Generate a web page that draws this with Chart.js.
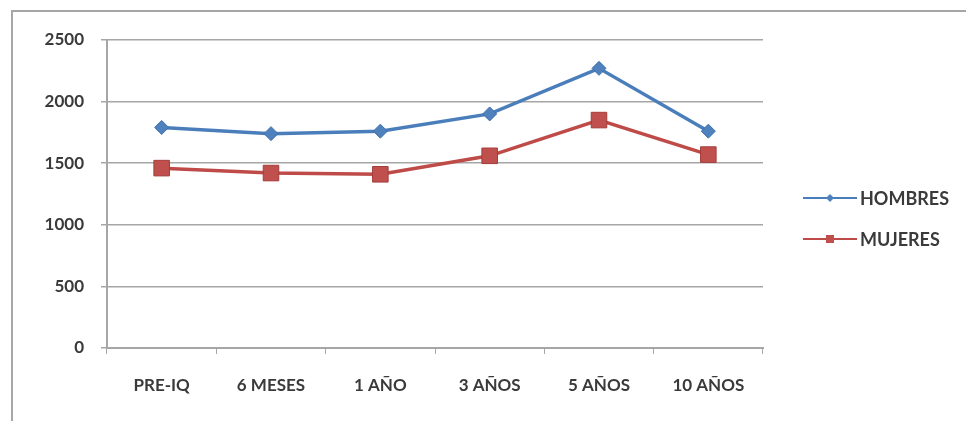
<!DOCTYPE html>
<html>
<head>
<meta charset="utf-8">
<script src="https://cdn.jsdelivr.net/npm/chart.js@4"></script>
<style>
  html, body { margin: 0; padding: 0; background: #fff; overflow: hidden; }
  #wrap { position: relative; width: 966px; height: 421px; }
  #frame { position: absolute; left: 11px; top: 10px; width: 1000px; height: 500px; border: 2px solid #a6a6a6; box-sizing: border-box; }
  canvas { position: absolute; left: 0; top: 0; }
</style>
</head>
<body>
<div id="wrap">
  <div id="frame"></div>
  <canvas id="chart" width="966" height="421"></canvas>
</div>
<script>
const categories = ['PRE-IQ', '6 MESES', '1 AÑO', '3 AÑOS', '5 AÑOS', '10 AÑOS'];
const hombres = [1790, 1740, 1760, 1900, 2270, 1760];
const mujeres = [1460, 1420, 1410, 1560, 1850, 1570];
const yTicks = [0, 500, 1000, 1500, 2000, 2500];

const blue = '#4a7ebb';
const red = '#be4b48';
const textColor = '#3a3a3a';
const labelFont = { family: 'Lato', size: 17, weight: 'bold' };

// legend drawn to the right, line with marker through it, like Excel
const sideLegend = {
  id: 'sideLegend',
  afterDraw(chart) {
    const ctx = chart.ctx;
    const rows = [198, 239];
    chart.data.datasets.forEach((ds, i) => {
      const y = rows[i];
      ctx.save();
      ctx.strokeStyle = ds.borderColor;
      ctx.lineWidth = 2;
      ctx.beginPath();
      ctx.moveTo(803, y);
      ctx.lineTo(857, y);
      ctx.stroke();
      ctx.fillStyle = ds.pointBackgroundColor;
      ctx.beginPath();
      if (ds.pointStyle === 'rectRot') {
        ctx.moveTo(830, y - 4);
        ctx.lineTo(834, y);
        ctx.lineTo(830, y + 4);
        ctx.lineTo(826, y);
      } else {
        ctx.rect(826, y - 4, 8, 8);
      }
      ctx.closePath();
      ctx.fill();
      ctx.fillStyle = textColor;
      ctx.font = 'bold 18px Lato';
      ctx.textBaseline = 'middle';
      ctx.textAlign = 'left';
      ctx.fillText(ds.label, 860, y + 1);
      ctx.restore();
    });
  }
};

new Chart(document.getElementById('chart'), {
  type: 'line',
  data: {
    labels: categories,
    datasets: [{
      label: 'HOMBRES',
      data: hombres,
      borderColor: blue,
      borderWidth: 3.5,
      pointStyle: 'rectRot',
      pointRadius: 7,
      pointBackgroundColor: '#4f81bd',
      pointBorderColor: '#3f6fae',
      pointBorderWidth: 1,
      tension: 0
    }, {
      label: 'MUJERES',
      data: mujeres,
      borderColor: red,
      borderWidth: 3.5,
      pointStyle: 'rect',
      pointRadius: 11,
      pointBackgroundColor: '#c0504d',
      pointBorderColor: '#a33d3a',
      pointBorderWidth: 1,
      tension: 0
    }]
  },
  options: {
    responsive: false,
    animation: false,
    layout: {
      padding: { left: 0, top: 40, right: 203, bottom: 0 }
    },
    plugins: {
      legend: { display: false },
      tooltip: { enabled: false }
    },
    scales: {
      x: {
        offset: true,
        afterFit(scale) { scale.height = 73; },
        grid: {
          offset: true,
          drawOnChartArea: false,
          drawTicks: true,
          tickLength: 6,
          color: '#a6a6a6'
        },
        border: { color: '#a6a6a6', width: 2 },
        ticks: {
          padding: 21,
          color: textColor,
          font: labelFont,
          maxRotation: 0
        }
      },
      y: {
        min: 0,
        max: 2500,
        afterFit(scale) { scale.width = 107; },
        afterBuildTicks(scale) { scale.ticks = yTicks.map(v => ({ value: v })); },
        grid: {
          color: '#a6a6a6',
          lineWidth: 1.5,
          tickLength: 6
        },
        border: { color: '#a6a6a6', width: 2 },
        ticks: {
          padding: 17,
          color: textColor,
          font: labelFont,
          callback: v => String(v)
        }
      }
    }
  },
  plugins: [sideLegend]
});
</script>
</body>
</html>
